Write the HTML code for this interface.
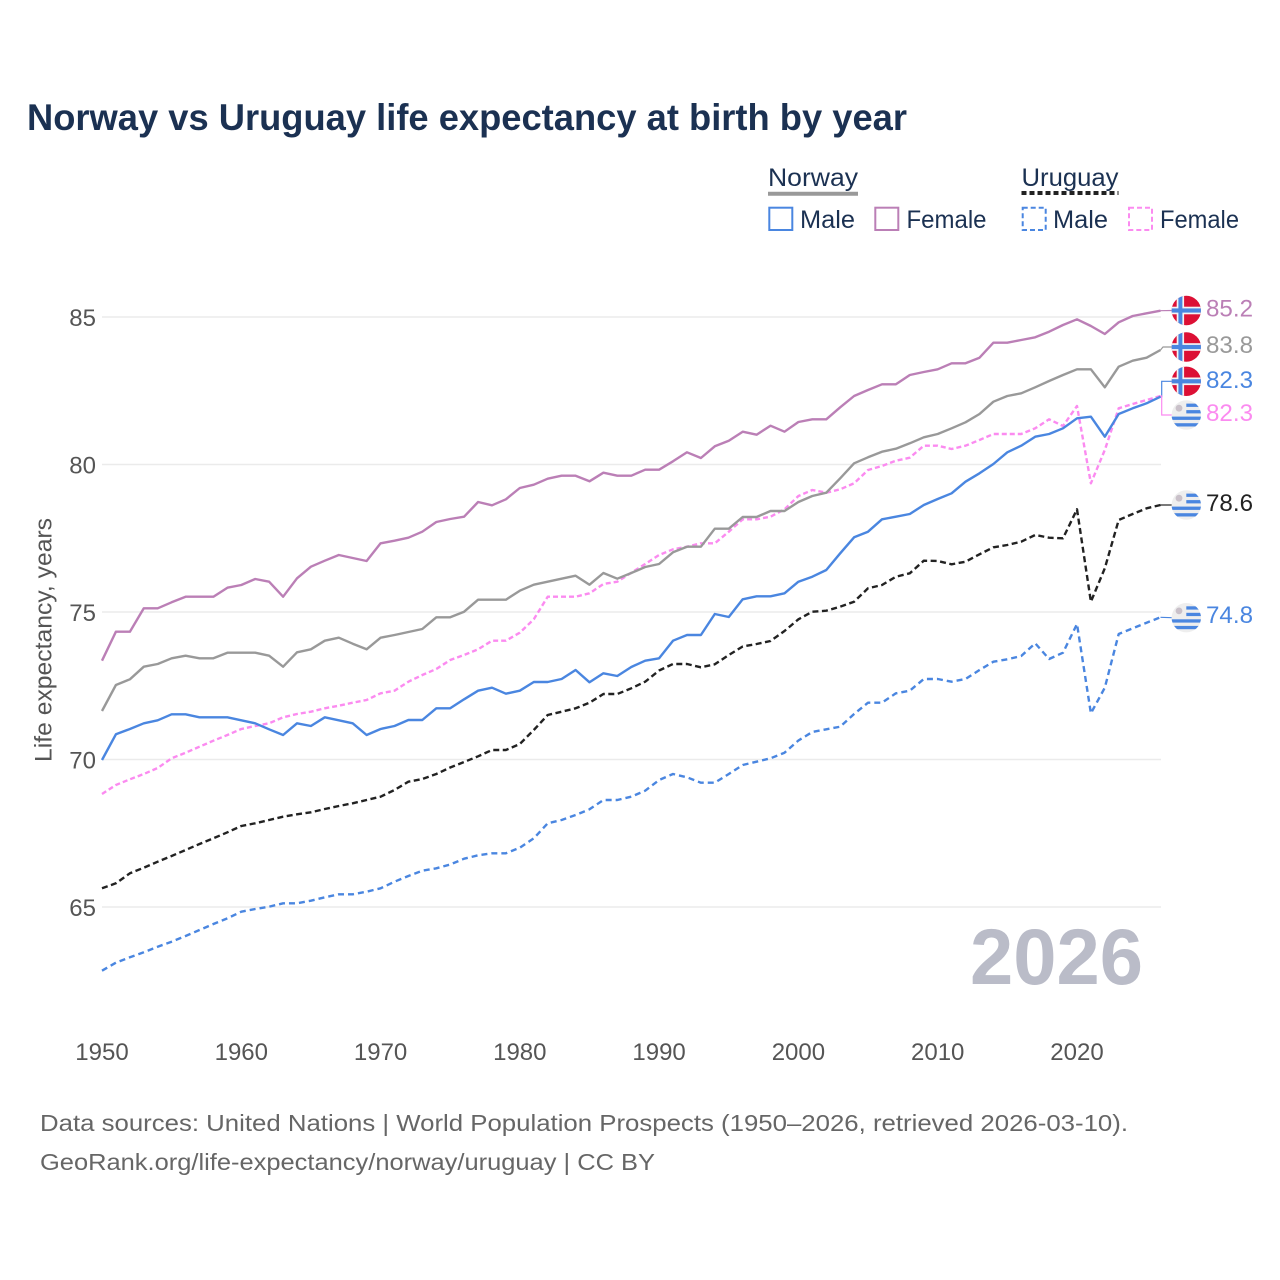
<!DOCTYPE html>
<html>
<head>
<meta charset="utf-8">
<style>
html,body{margin:0;padding:0;background:#fff;}
svg{display:block;}
text{font-family:"Liberation Sans",Arial,sans-serif;}
</style>
</head>
<body>
<svg width="1280" height="1280" viewBox="0 0 1280 1280" xmlns="http://www.w3.org/2000/svg">
<rect x="0" y="0" width="1280" height="1280" fill="#fff"/>

<!-- Title -->
<text x="27" y="130" font-size="37" font-weight="bold" fill="#1b3152" textLength="880" lengthAdjust="spacingAndGlyphs">Norway vs Uruguay life expectancy at birth by year</text>

<!-- Legend -->
<text x="768" y="186" font-size="25" fill="#1b3152" textLength="90" lengthAdjust="spacingAndGlyphs">Norway</text>
<line x1="768" y1="193.7" x2="858" y2="193.7" stroke="#999" stroke-width="4"/>
<text x="1021.5" y="186" font-size="25" fill="#1b3152" textLength="97" lengthAdjust="spacingAndGlyphs">Uruguay</text>
<line x1="1021.5" y1="193" x2="1118.5" y2="193" stroke="#222" stroke-width="4" stroke-dasharray="5,3"/>

<rect x="769.3" y="207.7" width="23" height="22.3" fill="none" stroke="#4a86e0" stroke-width="2"/>
<text x="800" y="228" font-size="25" fill="#1b3152" textLength="55" lengthAdjust="spacingAndGlyphs">Male</text>
<rect x="875.3" y="207.7" width="23" height="22.3" fill="none" stroke="#bb7fb6" stroke-width="2"/>
<text x="906.5" y="228" font-size="25" fill="#1b3152" textLength="80" lengthAdjust="spacingAndGlyphs">Female</text>
<rect x="1022.7" y="207.7" width="23" height="22.3" fill="none" stroke="#4a86e0" stroke-width="2" stroke-dasharray="5,3"/>
<text x="1053" y="228" font-size="25" fill="#1b3152" textLength="55" lengthAdjust="spacingAndGlyphs">Male</text>
<rect x="1129" y="207.7" width="23" height="22.3" fill="none" stroke="#fb8bf0" stroke-width="2" stroke-dasharray="5,3"/>
<text x="1160" y="228" font-size="25" fill="#1b3152" textLength="79" lengthAdjust="spacingAndGlyphs">Female</text>

<!-- Gridlines -->
<g stroke="#ebebeb" stroke-width="1.5">
<line x1="102" y1="317" x2="1161" y2="317"/>
<line x1="102" y1="464.5" x2="1161" y2="464.5"/>
<line x1="102" y1="612" x2="1161" y2="612"/>
<line x1="102" y1="759.5" x2="1161" y2="759.5"/>
<line x1="102" y1="907" x2="1161" y2="907"/>
</g>

<!-- Y tick labels -->
<g font-size="24" fill="#555" text-anchor="end">
<text x="96" y="326">85</text>
<text x="96" y="473.5">80</text>
<text x="96" y="621">75</text>
<text x="96" y="768.5">70</text>
<text x="96" y="916">65</text>
</g>

<!-- Y axis title -->
<text transform="translate(51.7,640) rotate(-90)" x="0" y="0" font-size="24" fill="#555" text-anchor="middle" textLength="244" lengthAdjust="spacingAndGlyphs">Life expectancy, years</text>

<!-- X tick labels -->
<g font-size="24" fill="#555" text-anchor="middle">
<text x="102" y="1060">1950</text>
<text x="241.3" y="1060">1960</text>
<text x="380.6" y="1060">1970</text>
<text x="519.8" y="1060">1980</text>
<text x="659.1" y="1060">1990</text>
<text x="798.4" y="1060">2000</text>
<text x="937.7" y="1060">2010</text>
<text x="1077" y="1060">2020</text>
</g>

<!-- Big year -->
<text x="970" y="984" font-size="79" font-weight="bold" fill="#babcc8" textLength="173" lengthAdjust="spacingAndGlyphs">2026</text>

<!-- Series -->
<g fill="none" stroke-linejoin="round" stroke-linecap="butt">
<!-- Uruguay male -->
<polyline stroke="#4a86e0" stroke-width="2.4" stroke-dasharray="6,4" points="102,970.7 115.9,962.7 129.9,957.3 143.8,952.3 157.7,946.7 171.6,941.7 185.6,936 199.5,930 213.4,924 227.4,918.3 241.3,911.7 255.2,909 269.1,906.7 283.1,903.3 297,903.3 310.9,900.7 324.8,897.3 338.8,894.3 352.7,894.3 366.6,891.7 380.6,888.3 394.5,881.7 408.4,876 422.3,870.7 436.3,868.3 450.2,864.5 464.1,858.7 478.1,855.3 492,853.3 505.9,853.3 519.8,847.7 533.8,838.3 547.7,823.3 561.6,820 575.6,815 589.5,809.3 603.4,800 617.3,800 631.3,796.7 645.2,790.7 659.1,780 673,774 687,777.3 700.9,782.7 714.8,782.7 728.8,774 742.7,765 756.6,761.7 770.5,758.3 784.5,752.7 798.4,740.5 812.3,732 826.3,729.3 840.2,726.7 854.1,714 868,702.7 882,702.7 895.9,693.3 909.8,690.7 923.8,679 937.7,679 951.6,681.7 965.5,679 979.5,670 993.4,661.7 1007.3,659.3 1021.2,656 1035.2,643.3 1049.1,659 1063,652.7 1077,624 1090.9,713.3 1104.8,687.7 1118.7,634 1132.7,628.3 1146.6,622.7 1160.5,617.3"/>
<!-- Uruguay total -->
<polyline stroke="#222" stroke-width="2.4" stroke-dasharray="6,3.5" points="102,888.3 115.9,883.3 129.9,873.3 143.8,867.7 157.7,861.7 171.6,856 185.6,850 199.5,844 213.4,838.3 227.4,832.3 241.3,826 255.2,823.3 269.1,820 283.1,816.7 297,814.3 310.9,812.3 324.8,809 338.8,806 352.7,803.3 366.6,800 380.6,796.7 394.5,790 408.4,781.7 422.3,779 436.3,774 450.2,767.5 464.1,762 478.1,756.3 492,750 505.9,750 519.8,744 533.8,730 547.7,715 561.6,711.7 575.6,708.3 589.5,702.7 603.4,694 617.3,694 631.3,688.3 645.2,681.7 659.1,670.5 673,664 687,664 700.9,667.3 714.8,664.3 728.8,655 742.7,646.5 756.6,644 770.5,641 784.5,631 798.4,619.3 812.3,611.7 826.3,610.7 840.2,606.7 854.1,601.7 868,588.3 882,585 895.9,576.7 909.8,573.3 923.8,560.7 937.7,561 951.6,564.3 965.5,561.7 979.5,554.3 993.4,547.3 1007.3,545 1021.2,541.7 1035.2,535 1049.1,537.7 1063,538.3 1077,509.3 1090.9,601.7 1104.8,568.3 1118.7,520 1132.7,514 1146.6,508.3 1160.5,505"/>
<!-- Uruguay female -->
<polyline stroke="#fb8bf0" stroke-width="2.4" stroke-dasharray="5,3" points="102,794 115.9,785 129.9,779.3 143.8,774 157.7,768 171.6,758.3 185.6,752.7 199.5,746.7 213.4,740.7 227.4,735 241.3,729 255.2,726 269.1,723.3 283.1,717.3 297,714 310.9,711.7 324.8,708.3 338.8,705.7 352.7,702.7 366.6,700 380.6,693.3 394.5,690.7 408.4,681.7 422.3,675 436.3,669 450.2,660 464.1,655 478.1,649.3 492,640.7 505.9,640.7 519.8,632.7 533.8,619.3 547.7,596.7 561.6,596.7 575.6,596.7 589.5,593.3 603.4,584 617.3,581.7 631.3,572.7 645.2,564 659.1,555 673,549.3 687,546.7 700.9,543.3 714.8,543.3 728.8,531.7 742.7,519.3 756.6,519.3 770.5,516.7 784.5,509.3 798.4,496 812.3,490 826.3,492.7 840.2,489.3 854.1,483.3 868,470 882,466 895.9,460.7 909.8,457.7 923.8,445.7 937.7,445.7 951.6,449 965.5,445.7 979.5,440 993.4,434 1007.3,434 1021.2,434 1035.2,428.3 1049.1,419.3 1063,426 1077,406 1090.9,483.3 1104.8,450 1118.7,408.3 1132.7,404 1146.6,400 1160.5,396"/>
<!-- Norway male -->
<polyline stroke="#4a86e0" stroke-width="2.4" points="102,760 115.9,734.3 129.9,729 143.8,723.3 157.7,720.3 171.6,714.3 185.6,714.3 199.5,717.3 213.4,717.3 227.4,717.3 241.3,720.3 255.2,723.3 269.1,729.3 283.1,735 297,723.3 310.9,726 324.8,717.3 338.8,720.3 352.7,723.3 366.6,735 380.6,729 394.5,726 408.4,720 422.3,720 436.3,708.3 450.2,708.3 464.1,699.3 478.1,690.7 492,687.7 505.9,693.7 519.8,690.7 533.8,682 547.7,682 561.6,679 575.6,670 589.5,682.3 603.4,673.3 617.3,676 631.3,667 645.2,660.7 659.1,658.3 673,640.7 687,635 700.9,635 714.8,614 728.8,617 742.7,599.3 756.6,596.3 770.5,596.3 784.5,593.3 798.4,581.7 812.3,576.7 826.3,570 840.2,553.3 854.1,537.3 868,531.7 882,519.3 895.9,516.7 909.8,514 923.8,505 937.7,499 951.6,493.3 965.5,481.7 979.5,473.3 993.4,464 1007.3,452.3 1021.2,445.7 1035.2,436.7 1049.1,434 1063,428.3 1077,418.3 1090.9,416.7 1104.8,436.7 1118.7,414 1132.7,408.3 1146.6,403.3 1160.5,396.7"/>
<!-- Norway total -->
<polyline stroke="#999" stroke-width="2.4" points="102,711 115.9,685 129.9,679.3 143.8,666.7 157.7,664 171.6,658.3 185.6,655.7 199.5,658.3 213.4,658.3 227.4,652.7 241.3,652.7 255.2,652.7 269.1,655.7 283.1,666.7 297,652.3 310.9,649.3 324.8,640.7 338.8,637.7 352.7,643.7 366.6,649.3 380.6,637.7 394.5,635 408.4,632 422.3,629 436.3,617.3 450.2,617.3 464.1,611.7 478.1,599.7 492,599.7 505.9,599.7 519.8,590.7 533.8,584.7 547.7,581.7 561.6,578.7 575.6,575.7 589.5,584.7 603.4,573 617.3,578.7 631.3,573 645.2,567 659.1,564 673,552.3 687,546.7 700.9,546.7 714.8,528.7 728.8,528.7 742.7,517 756.6,517 770.5,511 784.5,511 798.4,502 812.3,496 826.3,492.7 840.2,478.3 854.1,463.3 868,457.3 882,451.7 895.9,448.7 909.8,443.3 923.8,437.3 937.7,434 951.6,428.3 965.5,422.3 979.5,414 993.4,401.7 1007.3,396 1021.2,393.3 1035.2,387.3 1049.1,381 1063,375 1077,369.3 1090.9,369.3 1104.8,387.3 1118.7,366.7 1132.7,360.7 1146.6,357.7 1160.5,350"/>
<!-- Norway female -->
<polyline stroke="#bb7fb6" stroke-width="2.4" points="102,660.7 115.9,631.7 129.9,631.7 143.8,608.3 157.7,608.3 171.6,602.3 185.6,596.7 199.5,596.7 213.4,596.7 227.4,587.7 241.3,585 255.2,579 269.1,581.7 283.1,596.7 297,578.3 310.9,566.7 324.8,560.7 338.8,555 352.7,558 366.6,561 380.6,543.3 394.5,540.7 408.4,537.7 422.3,531.7 436.3,522 450.2,519 464.1,516.7 478.1,502 492,505.3 505.9,499.3 519.8,488 533.8,484.7 547.7,478.7 561.6,475.7 575.6,475.7 589.5,481.3 603.4,472.7 617.3,475.7 631.3,475.7 645.2,469.7 659.1,469.7 673,461.3 687,452.3 700.9,458 714.8,446.3 728.8,440.7 742.7,431.7 756.6,434.7 770.5,425.7 784.5,431.7 798.4,422 812.3,419.3 826.3,419.3 840.2,407.3 854.1,396 868,390 882,384.3 895.9,384.3 909.8,375 923.8,372 937.7,369.3 951.6,363.3 965.5,363.3 979.5,357.7 993.4,342.7 1007.3,342.7 1021.2,340 1035.2,337.3 1049.1,331.7 1063,325 1077,319.3 1090.9,326 1104.8,334 1118.7,322.3 1132.7,316 1146.6,313.3 1160.5,310.7"/>
</g>

<!-- Connectors -->
<g fill="none" stroke-width="1.2">
<polyline stroke="#bb7fb6" points="1160.5,310.7 1172,310.5"/>
<polyline stroke="#999" points="1160.5,350 1163,347 1172,347"/>
<polyline stroke="#4a86e0" points="1160.5,396.7 1161.7,396.7 1161.7,381.3 1172,381.3"/>
<polyline stroke="#fb8bf0" points="1160.5,396 1161.7,396 1161.7,415 1172,415"/>
<polyline stroke="#222" points="1160.5,505 1172,505"/>
<polyline stroke="#4a86e0" points="1160.5,617.3 1172,617.7"/>
</g>

<defs>
<clipPath id="cc"><circle cx="0" cy="0" r="14.7"/></clipPath>
<g id="no">
<g clip-path="url(#cc)">
<rect x="-15" y="-15" width="30" height="30" fill="#dc1035"/>
<rect x="-9.6" y="-15" width="7.4" height="30" fill="#f4f4f4"/>
<rect x="-15" y="-3.8" width="30" height="7.6" fill="#f4f4f4"/>
<rect x="-7.9" y="-15" width="4" height="30" fill="#4a86e0"/>
<rect x="-15" y="-2.1" width="30" height="4.2" fill="#4a86e0"/>
</g>
</g>
<g id="uy">
<g clip-path="url(#cc)">
<rect x="-15" y="-15" width="30" height="30" fill="#eeeeee"/>
<rect x="0" y="-11.4" width="15" height="3.3" fill="#4a86e0"/>
<rect x="0" y="-4.9" width="15" height="3.3" fill="#4a86e0"/>
<rect x="-15" y="1.6" width="30" height="3.3" fill="#4a86e0"/>
<rect x="-15" y="8.2" width="30" height="3.3" fill="#4a86e0"/>
<circle cx="-7.3" cy="-6.8" r="3.4" fill="#c9c0c9"/>
</g>
</g>
</defs>

<use href="#no" x="1186.3" y="310.5"/>
<use href="#no" x="1186.3" y="347"/>
<use href="#no" x="1186.3" y="381.3"/>
<use href="#uy" x="1186.3" y="415"/>
<use href="#uy" x="1186.3" y="505"/>
<use href="#uy" x="1186.3" y="617.7"/>

<!-- Value labels -->
<g font-size="24">
<text x="1206" y="316.5" fill="#bb7fb6" textLength="47" lengthAdjust="spacingAndGlyphs">85.2</text>
<text x="1206" y="353" fill="#999" textLength="47" lengthAdjust="spacingAndGlyphs">83.8</text>
<text x="1206" y="388" fill="#4a86e0" textLength="47" lengthAdjust="spacingAndGlyphs">82.3</text>
<text x="1206" y="421" fill="#fb8bf0" textLength="47" lengthAdjust="spacingAndGlyphs">82.3</text>
<text x="1206" y="511" fill="#222" textLength="47" lengthAdjust="spacingAndGlyphs">78.6</text>
<text x="1206" y="623" fill="#4a86e0" textLength="47" lengthAdjust="spacingAndGlyphs">74.8</text>
</g>

<!-- Footer -->
<text x="40" y="1131" font-size="23" fill="#666" textLength="1088" lengthAdjust="spacingAndGlyphs">Data sources: United Nations | World Population Prospects (1950–2026, retrieved 2026-03-10).</text>
<text x="40" y="1170" font-size="23" fill="#666" textLength="615" lengthAdjust="spacingAndGlyphs">GeoRank.org/life-expectancy/norway/uruguay | CC BY</text>
</svg>
</body>
</html>
